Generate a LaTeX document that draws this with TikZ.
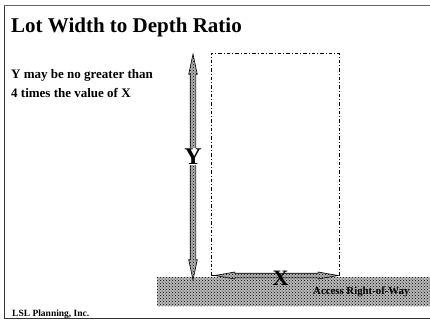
\documentclass[tikz,border=0pt]{standalone}
\usepackage{fontspec}
\setmainfont{Liberation Serif}
\usetikzlibrary{patterns,shapes.arrows}
\tikzset{
  txt/.style={inner sep=0pt, anchor=base west, font=\bfseries},
  hatcharrow/.style={double arrow, draw=black, line width=0.6pt, inner xsep=0pt,
     preaction={fill=gray!60}, pattern=crosshatch dots, pattern color=black},
  band/.style={preaction={fill=gray!55}, pattern=crosshatch dots, pattern color=black},
  lotline/.style={draw=black, line width=0.9pt, dash pattern=on 3.5pt off 2pt on 1pt off 2pt},
}
\begin{document}
\begin{tikzpicture}[x=1pt,y=-1pt]
\useasboundingbox (0,0) rectangle (430,324);
% frame
\draw[black!80, line width=0.9pt] (4,5) -- (4,318) -- (436,318);
\draw[black!60, line width=0.9pt] (4,5) -- (436,5);
% title and text
\node[txt, font=\bfseries\fontsize{21}{24}\selectfont] (title) at (11,32) {Lot Width to Depth Ratio};
\node[txt, font=\bfseries\fontsize{13}{16}\selectfont] (l1) at (11,78) {Y may be no greater than};
\node[txt, font=\bfseries\fontsize{13}{16}\selectfont] (l2) at (11,97) {4 times the value of X};
% access band
\path[band] (157,277) rectangle (432,306);
\node[txt, font=\bfseries\fontsize{10.8}{12}\selectfont] (access) at (313,294.5) {Access Right-of-Way};
% lot
\node[lotline, minimum width=128pt, minimum height=222pt, inner sep=0pt] (lot) at (275,164) {};
% Y arrow
\node[hatcharrow, rotate=90, minimum height=226pt, inner ysep=2.5pt,
      double arrow head extend=1.5pt, double arrow tip angle=24] (yarrow) at (193,167) {};
\node[fill=white, inner sep=0.5pt, font=\bfseries\fontsize{24}{26}\selectfont] (ylab) at (193,156.5) {Y};
% X arrow
\node[hatcharrow, minimum height=123pt, inner ysep=2pt,
      double arrow head extend=1.2pt, double arrow tip angle=20] (xarrow) at (276.5,275.5) {};
\node[inner sep=0pt, font=\bfseries\fontsize{22}{24}\selectfont] (xlab) at (280.5,278) {X};
% footer
\node[txt, font=\bfseries\fontsize{9.5}{11}\selectfont] (lsl) at (12,316.5) {LSL Planning, Inc.};
\end{tikzpicture}
\end{document}
